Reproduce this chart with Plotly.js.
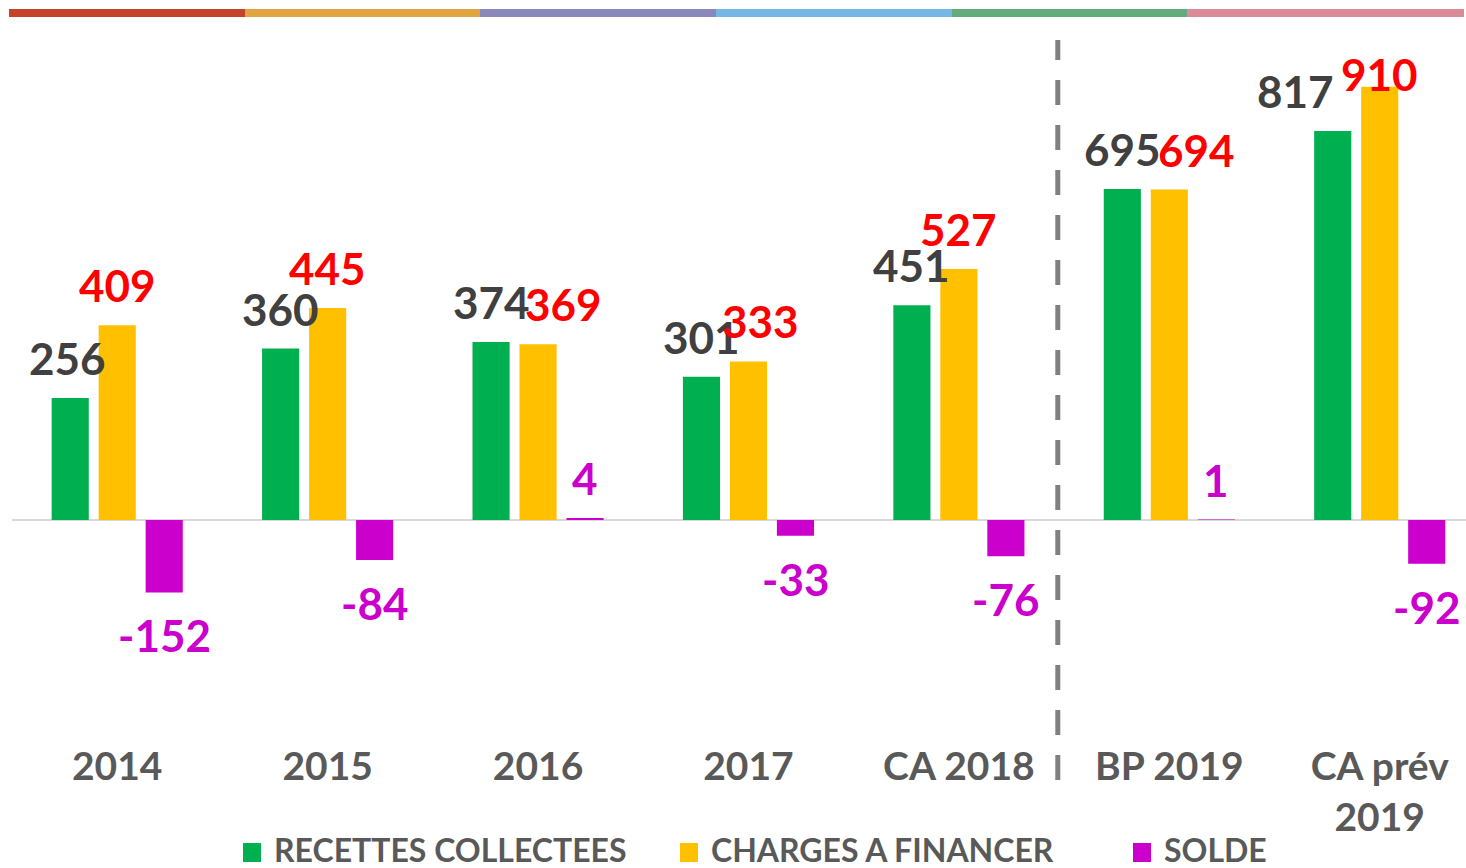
<!DOCTYPE html>
<html>
<head>
<meta charset="utf-8">
<script src="https://cdn.plot.ly/plotly-3.0.1.min.js"></script>
<style>
html,body{margin:0;padding:0;background:#fff;}
#chart{width:1466px;height:868px;}
</style>
</head>
<body>
<div id="chart"></div>
<script>
const categories = ["2014", "2015", "2016", "2017", "CA 2018", "BP 2019", "CA prév<br>2019"];
const recettes = [256, 360, 374, 301, 451, 695, 817];
const charges = [409, 445, 369, 333, 527, 694, 910];
const solde = [-152, -84, 4, -33, -76, 1, -92];
const seriesNames = ["RECETTES COLLECTEES", "CHARGES A FINANCER", "SOLDE"];
const seriesColors = ["#00B050", "#FFC000", "#CC00CC"];
const labelColors = ["#404040", "#FF0000", "#CC00CC"];
const stripeColors = ["#C5432A", "#E0A540", "#8B89BA", "#75B7E5", "#64AB7C", "#D98B98"];

const series = [recettes, charges, solde];
const traces = series.map((vals, i) => ({
  type: "bar",
  name: seriesNames[i],
  x: categories,
  y: vals,
  marker: {color: seriesColors[i]},
  hoverinfo: "none",
  showlegend: false
}));

// label placement tweaks (pixels), as moved by hand in the original
const labelNudges = {"1,2": [25, 0], "1,3": [12, 0], "1,5": [27, 0], "0,6": [-37, 0], "1,6": [0, -27], "0,0": [-3, 0]};
const offsets = [-47, 0, 47];
const annotations = [];
series.forEach((vals, i) => {
  vals.forEach((v, j) => {
    const n = labelNudges[i + "," + j] || [0, 0];
    annotations.push({
      x: j, y: v, xref: "x", yref: "y",
      text: String(v), showarrow: false,
      xshift: offsets[i] + n[0],
      yanchor: v >= 0 ? "bottom" : "top",
      yshift: (v >= 0 ? 12 : -15) + n[1],
      font: {family: "Lato, sans-serif", size: 44, color: labelColors[i], weight: "bold"}
    });
  });
});

const plotLeft = 12, plotWidth = 1454, plotTop = 40, plotHeight = 700;
const px2x = p => (p - plotLeft) / plotWidth;
const py2y = p => (plotTop + plotHeight - p) / plotHeight;

// decorative top stripe
const stripeEdges = [9, 245, 480, 716, 952, 1187, 1464];
const shapes = stripeColors.map((c, k) => ({
  type: "rect", xref: "paper", yref: "paper", layer: "above",
  x0: px2x(stripeEdges[k]), x1: px2x(stripeEdges[k + 1]),
  y0: py2y(17), y1: py2y(9),
  fillcolor: c, line: {width: 0}
}));
// separator between actuals and forecasts
shapes.push({
  type: "line", xref: "x", yref: "paper",
  x0: 4.47, x1: 4.47, y0: py2y(780), y1: 1.0,
  line: {color: "#808080", width: 5, dash: "25px,20px"}
});

// legend drawn below the axis labels
const legendSquareX = [243, 680, 1133];
seriesNames.forEach((name, i) => {
  const sx = legendSquareX[i];
  shapes.push({
    type: "rect", xref: "paper", yref: "paper",
    x0: px2x(sx), x1: px2x(sx + 18), y0: py2y(862), y1: py2y(843),
    fillcolor: seriesColors[i], line: {width: 0}
  });
  annotations.push({
    xref: "paper", yref: "paper", x: px2x(sx + 29), y: py2y(850),
    xanchor: "left", yanchor: "middle", showarrow: false, text: name,
    font: {family: "Lato, sans-serif", size: 32, color: "#595959", weight: "bold"}
  });
});

const layout = {
  width: 1466, height: 868,
  margin: {l: plotLeft, r: 0, t: plotTop, b: 868 - plotTop - plotHeight, autoexpand: false},
  paper_bgcolor: "#fff", plot_bgcolor: "#fff",
  barmode: "group", bargap: 0.33, bargroupgap: 0.21,
  showlegend: false,
  xaxis: {
    type: "category", range: [-0.5, 6.41], automargin: false,
    showgrid: false, zeroline: false, showline: false, ticks: "",
    tickfont: {family: "Lato, sans-serif", size: 39, color: "#595959", weight: "bold"},
    fixedrange: true
  },
  yaxis: {
    range: [-462, 1008], showgrid: false, showticklabels: false, ticks: "", automargin: false,
    zeroline: true, zerolinecolor: "#D9D9D9", zerolinewidth: 2,
    fixedrange: true
  },
  shapes: shapes,
  annotations: annotations,
  font: {family: "Lato, sans-serif"}
};

Plotly.newPlot("chart", traces, layout, {displayModeBar: false, staticPlot: true});
</script>
</body>
</html>
